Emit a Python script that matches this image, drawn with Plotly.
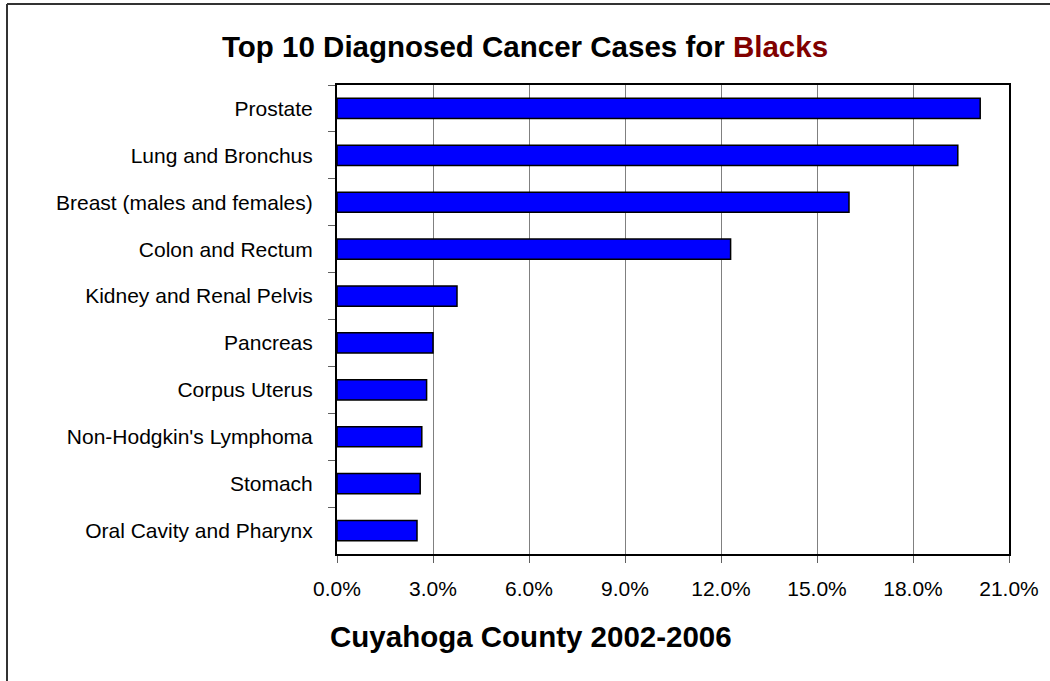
import plotly.graph_objects as go

# Share of diagnosed cancer cases, per cent
sites = [
    "Prostate",
    "Lung and Bronchus",
    "Breast (males and females)",
    "Colon and Rectum",
    "Kidney and Renal Pelvis",
    "Pancreas",
    "Corpus Uterus",
    "Non-Hodgkin's Lymphoma",
    "Stomach",
    "Oral Cavity and Pharynx",
]
share_pct = [20.1, 19.4, 16.0, 12.3, 3.75, 3.0, 2.8, 2.65, 2.6, 2.5]
x_ticks = [0, 3, 6, 9, 12, 15, 18, 21]

W, H = 1050, 681
ML, MR, MT, MB = 337, 41, 85, 127
PW, PH = W - ML - MR, H - MT - MB


def px_x(X):
    return (X - ML) / PW


def px_y(Y):
    return (H - MB - Y) / PH


FONT = "Liberation Sans, Arial, sans-serif"

fig = go.Figure(
    go.Bar(
        x=share_pct,
        y=sites,
        orientation="h",
        marker=dict(color="#0000FF", line=dict(color="#000000", width=1.5)),
        hoverinfo="x+y",
    )
)

fig.update_layout(
    width=W,
    height=H,
    margin=dict(l=ML, r=MR, t=MT, b=MB, pad=0),
    paper_bgcolor="white",
    plot_bgcolor="white",
    bargap=0.57,
    showlegend=False,
    font=dict(family=FONT, color="black", size=21),
    xaxis=dict(
        range=[0, 21],
        tickvals=x_ticks,
        ticktext=[f"{v:.1f}%" for v in x_ticks],
        showgrid=True,
        gridcolor="#808080",
        gridwidth=1,
        zeroline=False,
        showline=True,
        linecolor="#000000",
        linewidth=2,
        mirror=True,
        ticks="outside",
        ticklen=7,
        tickcolor="#606060",
        ticklabelstandoff=8,
        tickfont=dict(size=21, family=FONT),
    ),
    yaxis=dict(
        autorange="reversed",
        showgrid=False,
        zeroline=False,
        showline=True,
        linecolor="#000000",
        linewidth=2,
        mirror=True,
        ticks="outside",
        tickson="boundaries",
        ticklen=7,
        tickcolor="#606060",
        ticklabelstandoff=18,
        tickfont=dict(size=21, family=FONT),
    ),
    annotations=[
        dict(
            text="<b>Top 10 Diagnosed Cancer Cases for <span style='color:#800000'>Blacks</span></b>",
            xref="paper", yref="paper",
            x=px_x(525), y=px_y(46),
            xanchor="center", yanchor="middle",
            showarrow=False,
            font=dict(size=29.5, family=FONT, color="black"),
        ),
        dict(
            text="<b>Cuyahoga County 2002-2006</b>",
            xref="paper", yref="paper",
            x=px_x(531), y=px_y(636),
            xanchor="center", yanchor="middle",
            showarrow=False,
            font=dict(size=29.5, family=FONT, color="black"),
        ),
    ],
    shapes=[
        # outer chart frame (left and top edges)
        dict(type="line", xref="paper", yref="paper",
             x0=px_x(7), x1=px_x(7), y0=px_y(4), y1=px_y(H + 20),
             line=dict(color="#333333", width=2)),
        dict(type="line", xref="paper", yref="paper",
             x0=px_x(7), x1=px_x(W + 20), y0=px_y(4), y1=px_y(4),
             line=dict(color="#333333", width=2)),
    ],
)

fig.write_html("out.html")
